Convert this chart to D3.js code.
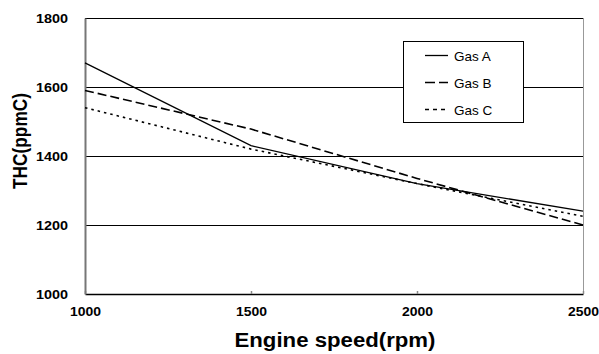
<!DOCTYPE html>
<html><head><meta charset="utf-8">
<script src="https://cdn.jsdelivr.net/npm/d3@7"></script>
<style>body{margin:0;background:#fff}svg{display:block}text{font-family:Arial,"Liberation Sans",sans-serif}</style>
</head><body><svg id="c" width="599" height="354"></svg>
<script>
const speeds = [1000, 1500, 2000, 2500];
const gasA = [1670, 1430, 1320, 1240];
const gasB = [1590, 1478, 1335, 1200];
const gasC = [1540, 1420, 1320, 1225];
const seriesNames = ["Gas A", "Gas B", "Gas C"];
const yTicks = [1000, 1200, 1400, 1600, 1800];
const xTicks = [1000, 1500, 2000, 2500];

const svg = d3.select("#c");
const x = d3.scaleLinear().domain([1000, 2500]).range([85, 583]);
const y = d3.scaleLinear().domain([1000, 1800]).range([294, 18]);

// gridlines
svg.append("g").selectAll("line").data(yTicks.filter(d => d > 1000)).join("line")
  .attr("x1", x(1000)).attr("x2", x(2500)).attr("y1", d => y(d)).attr("y2", d => y(d))
  .attr("stroke", "#000").attr("stroke-width", 1).attr("shape-rendering", "crispEdges");
// right border
svg.append("line").attr("x1", x(2500)).attr("x2", x(2500)).attr("y1", y(1800)).attr("y2", y(1000))
  .attr("stroke", "#999").attr("stroke-width", 1).attr("shape-rendering", "crispEdges");

// x axis
const xAxis = d3.axisBottom(x).tickValues(xTicks).tickSizeInner(-3).tickSizeOuter(0).tickFormat(d3.format("d"));
const gx = svg.append("g").attr("transform", `translate(0,${y(1000)})`).call(xAxis);
gx.select(".domain").attr("stroke", "#000").attr("stroke-width", 1.3);
gx.selectAll(".tick line").attr("stroke", "#888").attr("stroke-width", 1.5);
gx.selectAll(".tick text").attr("y", 22).attr("dy", 0)
  .attr("font-size", 12).attr("font-weight", "bold").attr("fill", "#000")
  .attr("textLength", 31).attr("lengthAdjust", "spacingAndGlyphs");

// y axis
const yAxis = d3.axisLeft(y).tickValues(yTicks).tickSize(0).tickFormat(d3.format("d"));
const gy = svg.append("g").attr("transform", `translate(${x(1000)},0)`).call(yAxis);
gy.select(".domain").attr("stroke", "#777").attr("stroke-width", 2);
gy.selectAll(".tick text").attr("x", -17).attr("dy", "0.36em")
  .attr("font-size", 12).attr("font-weight", "bold").attr("fill", "#000")
  .attr("textLength", 32).attr("lengthAdjust", "spacingAndGlyphs");

// lines
const styles = [
  {data: gasA, dash: null, w: 1.3},
  {data: gasB, dash: "9,4", w: 1.6},
  {data: gasC, dash: "2.5,4", w: 1.6}
];
const line = d3.line().x((d, i) => x(speeds[i])).y(d => y(d));
svg.append("g").selectAll("path").data(styles).join("path")
  .attr("d", d => line(d.data)).attr("fill", "none").attr("stroke", "#000")
  .attr("stroke-width", d => d.w).attr("stroke-dasharray", d => d.dash);

// legend
const lg = svg.append("g");
lg.append("rect").attr("x", 403).attr("y", 41).attr("width", 120).attr("height", 81)
  .attr("fill", "#fff").attr("stroke", "#000").attr("stroke-width", 1).attr("shape-rendering", "crispEdges");
const rows = [55.5, 82.5, 109.5];
styles.forEach((s, i) => {
  lg.append("line").attr("x1", 425).attr("x2", 448).attr("y1", rows[i]).attr("y2", rows[i])
    .attr("stroke", "#000").attr("stroke-width", s.w).attr("stroke-dasharray", s.dash === "9,4" ? "10,4" : (s.dash ? "4,4" : null));
  lg.append("text").attr("x", 454).attr("y", rows[i] + 5).attr("font-size", 13.5).attr("fill", "#000")
    .text(seriesNames[i]);
});

// axis titles
svg.append("text").attr("x", 335).attr("y", 347).attr("text-anchor", "middle")
  .attr("font-size", 19.5).attr("font-weight", "bold").attr("textLength", 201).attr("lengthAdjust", "spacingAndGlyphs")
  .text("Engine speed(rpm)");
svg.append("text").attr("transform", "translate(27,141) rotate(-90)").attr("text-anchor", "middle")
  .attr("font-size", 20).attr("font-weight", "bold").attr("textLength", 96).attr("lengthAdjust", "spacingAndGlyphs")
  .text("THC(ppmC)");
</script></body></html>
